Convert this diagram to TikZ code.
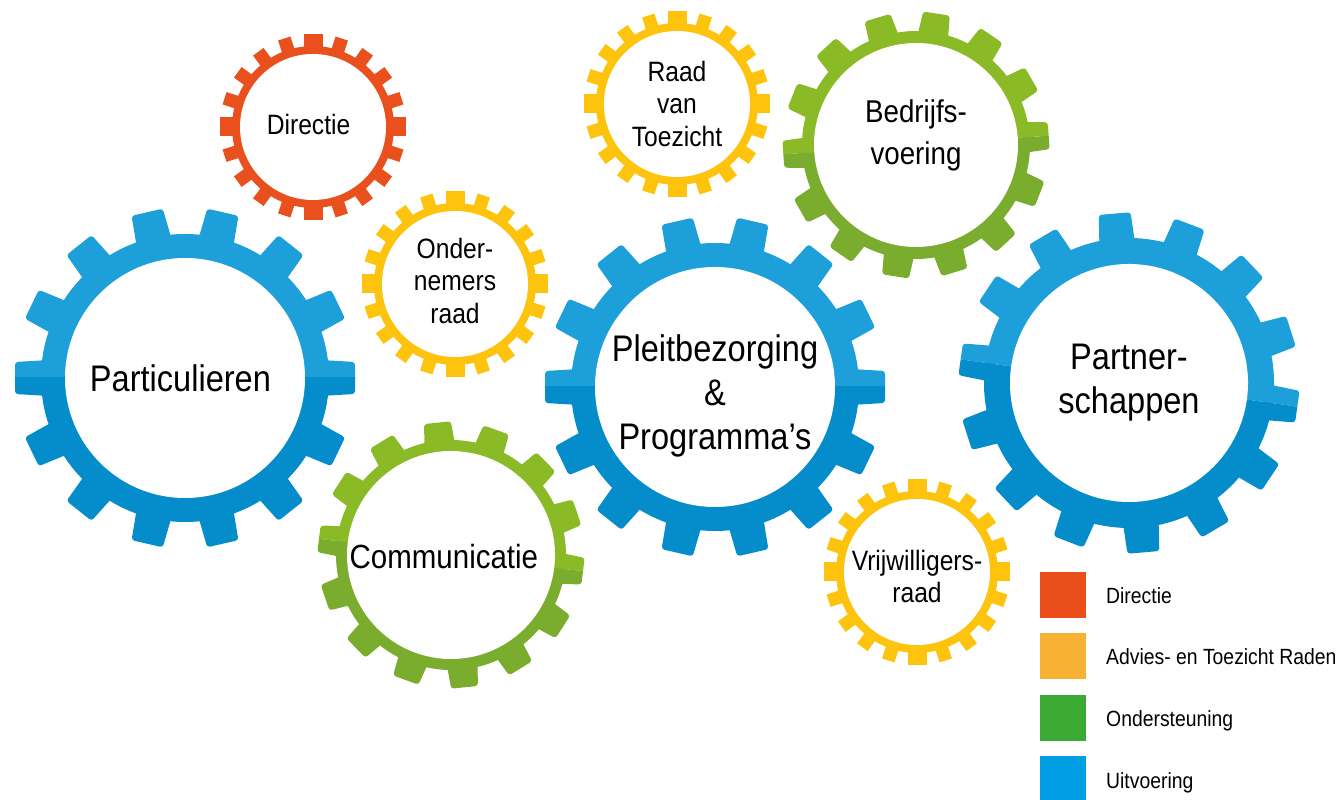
\documentclass[tikz,border=0pt]{standalone}
\usepackage{fontspec}
\setmainfont[FakeStretch=0.88]{Liberation Sans}
\usepackage{tikz}
\usetikzlibrary{positioning}

\definecolor{dirred}{HTML}{E9501E}
\definecolor{raadyellow}{HTML}{FEC30C}
\definecolor{greentop}{HTML}{8BBA27}
\definecolor{greenbot}{HTML}{7AAC2E}
\definecolor{bluetop}{HTML}{1D9FDA}
\definecolor{bluebot}{HTML}{048DCA}
\definecolor{legred}{HTML}{E94E1B}
\definecolor{legorange}{HTML}{F7B133}
\definecolor{leggreen}{HTML}{3AAA35}
\definecolor{legblue}{HTML}{009FE3}

% big gear: centre, tip, body, hole, tooth width, turn, top colour, bottom colour
\newcommand{\biggear}[8]{%
  \begin{scope}[shift={(#1)}, rotate=#6]
    \foreach \half/\col in {1/#7,-1/#8}{
      \begin{scope}
        \clip (-#2-2,0) rectangle (#2+2,\half*#2+\half*2);
        \fill[\col] (0,0) circle (#3);
        \foreach \k in {0,...,13}
          \fill[\col, rotate=\k*360/14, rounded corners=3pt]
            (#3-8,-#5/2-2) -- (#2,-#5/2) -- (#2,#5/2) -- (#3-8,#5/2+2) -- cycle;
      \end{scope}
    }
    \fill[white] (0,0) circle (#4);
  \end{scope}}

% small gear: centre, colour
\newcommand{\smallgear}[2]{%
  \begin{scope}[shift={(#1)}]
    \fill[#2] (0,0) circle (81);
    \foreach \k in {0,...,19}
      \fill[#2, rotate=\k*18] (76,-6.5) rectangle (93,6.5);
    \foreach \k in {0,...,3}
      \fill[#2, rotate=\k*90] (76,-9.5) rectangle (93,9.5);
    \fill[white] (0,0) circle (73);
  \end{scope}}

\begin{document}
\begin{tikzpicture}[x = 1pt, y = 1pt,
    bigtext/.style = { font = \fontsize{37}{44}\selectfont, align = center },
    midtext/.style = { font = \fontsize{31.5}{42}\selectfont, align = center },
    smalltext/.style = { font = \fontsize{28}{32.5}\selectfont, align = center },
    legbox/.style = { minimum size = 46pt, inner sep = 0pt, outer sep = 0pt },
    legtext/.style = { font = \fontsize{22}{26}\selectfont, inner sep = 0pt,
      text height = 0.72em, text depth = 0pt }]
  \useasboundingbox (0,0) rectangle (1336,800);

  % gear centres
  \coordinate (dir) at (313,673);
  \coordinate (onr) at (455,516);
  \coordinate (rvt) at (677,696);
  \coordinate (vwr) at (917,228);
  \coordinate (partic) at (185,422);
  \coordinate (pleit) at (715,413);
  \coordinate (partner) at (1129,417);
  \coordinate (bedrijf) at (916,655);
  \coordinate (comm) at (451,245);

  \smallgear{dir}{dirred}
  \smallgear{onr}{raadyellow}
  \smallgear{rvt}{raadyellow}
  \smallgear{vwr}{raadyellow}
  \biggear{bedrijf}{133}{114}{102}{27}{4}{greentop}{greenbot}
  \biggear{comm}{133}{115}{104}{27}{-7}{greentop}{greenbot}
  \biggear{partic}{170}{144}{120}{32}{0}{bluetop}{bluebot}
  \biggear{pleit}{170}{144}{120}{32}{0}{bluetop}{bluebot}
  \biggear{partner}{170}{145}{119}{32}{-8}{bluetop}{bluebot}

  \node[smalltext, xshift = -1pt, yshift = 2pt] (dirText) at (dir) { Directie };
  \node[smalltext, yshift = 3.5pt] (onrText) at (onr) { Onder- \\ nemers \\ raad };
  \node[smalltext] (rvtText) at (rvt) { Raad \\ van \\ Toezicht };
  \node[smalltext, yshift = -4.7pt] (vwrText) at (vwr) { Vrijwilligers- \\ raad };
  \node[midtext, yshift = 10pt] (bedrijfText) at (bedrijf) { Bedrijfs- \\ voering };
  \node[bigtext, font = \fontsize{33.5}{40}\selectfont, xshift = -3pt, yshift = -2pt]
    (commText) at (comm) { Communicatie };
  \node[bigtext] (particText) at (partic) { Particulieren };
  \node[bigtext, yshift = -9pt] (pleitText) at (pleit) { Pleitbezorging \\ \& \\ Programma’s };
  \node[bigtext] (partnerText) at (partner) { Partner- \\ schappen };

  % legend
  \foreach \col/\txt [count = \i] in {legred/Directie, legorange/Advies- en Toezicht Raden,
      leggreen/Ondersteuning, legblue/Uitvoering} {
    \node[legbox, fill = \col] (box\i) at (1063, 266.9-61.6*\i) {};
    \node[legtext, right = 20pt of box\i, yshift = -5pt] (lab\i) { \txt };
  }
\end{tikzpicture}
\end{document}
